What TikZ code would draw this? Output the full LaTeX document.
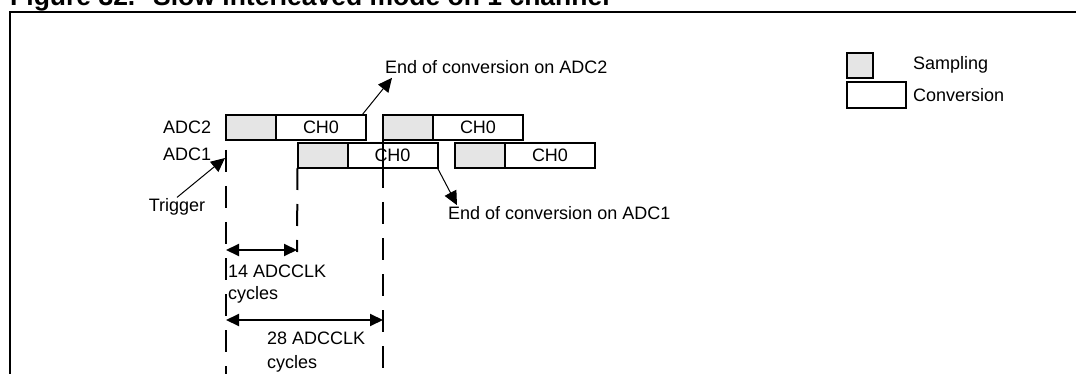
\documentclass[tikz,border=0pt]{standalone}
\usepackage{fontspec}
\setmainfont{Liberation Sans}
\usetikzlibrary{positioning,arrows.meta}
\tikzset{
  samp/.style={draw, line width=2pt, fill=gray!20, minimum width=50pt, minimum height=25pt, inner sep=0pt, outer sep=0pt},
  conv/.style={draw, line width=2pt, minimum width=90pt, minimum height=25pt, inner sep=0pt, outer sep=0pt},
  guide/.style={line width=2pt, dash pattern=on 22pt off 14pt},
  note/.style={-{Triangle[length=14pt,width=13pt]}, line width=1pt},
  span/.style={{Triangle[length=13pt,width=12pt]}-{Triangle[length=13pt,width=12pt]}, line width=2pt},
  heading/.style={anchor=base west, font=\fontsize{26.5}{30}\selectfont\bfseries},
}
\begin{document}
\begin{tikzpicture}[x=1pt, y=-1pt, node distance=0pt,
  every node/.style={font=\fontsize{18}{22}\selectfont, inner sep=1pt}]
  \useasboundingbox (0,0) rectangle (1076,374);
  \clip (0,0) rectangle (1076,374);

  % title and frame
  \node[heading] (fig) at (9,5.5) {Figure 32.};
  \node[heading] (title) at (152,5.5) {Slow interleaved mode on 1 channel};
  \draw[line width=2pt] (10,380) -- (10,12) -- (1080,12);

  % ADC2 row
  \node[samp] (s2a) at (251,127.5) {};
  \node[conv, right=of s2a] (c2a) {CH0};
  \node[samp] (s2b) at (408,127.5) {};
  \node[conv, right=of s2b] (c2b) {CH0};

  % ADC1 row
  \node[samp] (s1a) at (322.5,155.5) {};
  \node[conv, right=of s1a] (c1a) {CH0};
  \node[samp] (s1b) at (480,155.5) {};
  \node[conv, right=of s1b] (c1b) {CH0};

  \node[anchor=west] (adc2) at (162,127.5) {ADC2};
  \node[anchor=west] (adc1) at (162,154) {ADC1};

  % time guides
  \coordinate (g0top) at (226,150);
  \coordinate (g0bot) at (226,376);
  \coordinate (g1top) at (s1a.south west);
  \coordinate (g1bot) at (297,252);
  \coordinate (g2top) at (s2b.south west);
  \coordinate (g2mid) at (383,166);
  \coordinate (g2bot) at (383,376);
  \draw[guide] (g0top) -- (g0bot);
  \draw[guide] (g1top) -- (g1bot);
  \draw[line width=2pt] (g2top) -- (g2mid);
  \draw[guide] (g2mid) -- (g2bot);

  % trigger
  \node (trig) at (177,207) {Trigger};
  \coordinate (trigpt) at (225,158);
  \draw[note] (trig.north) -- (trigpt);

  % end of conversion
  \node[anchor=west] (eoc2) at (384,67) {End of conversion on ADC2};
  \draw[note] ([xshift=-4pt]c2a.north east) -- ([xshift=8pt,yshift=-3pt]eoc2.south west);
  \node[anchor=west] (eoc1) at (447,213) {End of conversion on ADC1};
  \draw[note] (c1a.south east) -- ([xshift=10pt]eoc1.north west);

  % spans
  \coordinate (a14) at (226,250);
  \coordinate (b14) at (297,250);
  \draw[span] (a14) -- (b14);
  \node[anchor=north west, align=left] (t14) at (227,264) {14 ADCCLK\\cycles};
  \coordinate (a28) at (226,320);
  \coordinate (b28) at (383,320);
  \draw[span] (a28) -- (b28);
  \node[anchor=north west, align=left] (t28) at (266,331) {28 ADCCLK\\[2pt]cycles};

  % legend
  \node[samp, minimum width=26pt] (legs) at (860,65.5) {};
  \node[conv, minimum width=59pt, minimum height=26pt] (legc) at (876.5,95) {};
  \node[anchor=west] (lsamp) at (912,65) {Sampling};
  \node[anchor=west] (lconv) at (912,95) {Conversion};
\end{tikzpicture}
\end{document}
